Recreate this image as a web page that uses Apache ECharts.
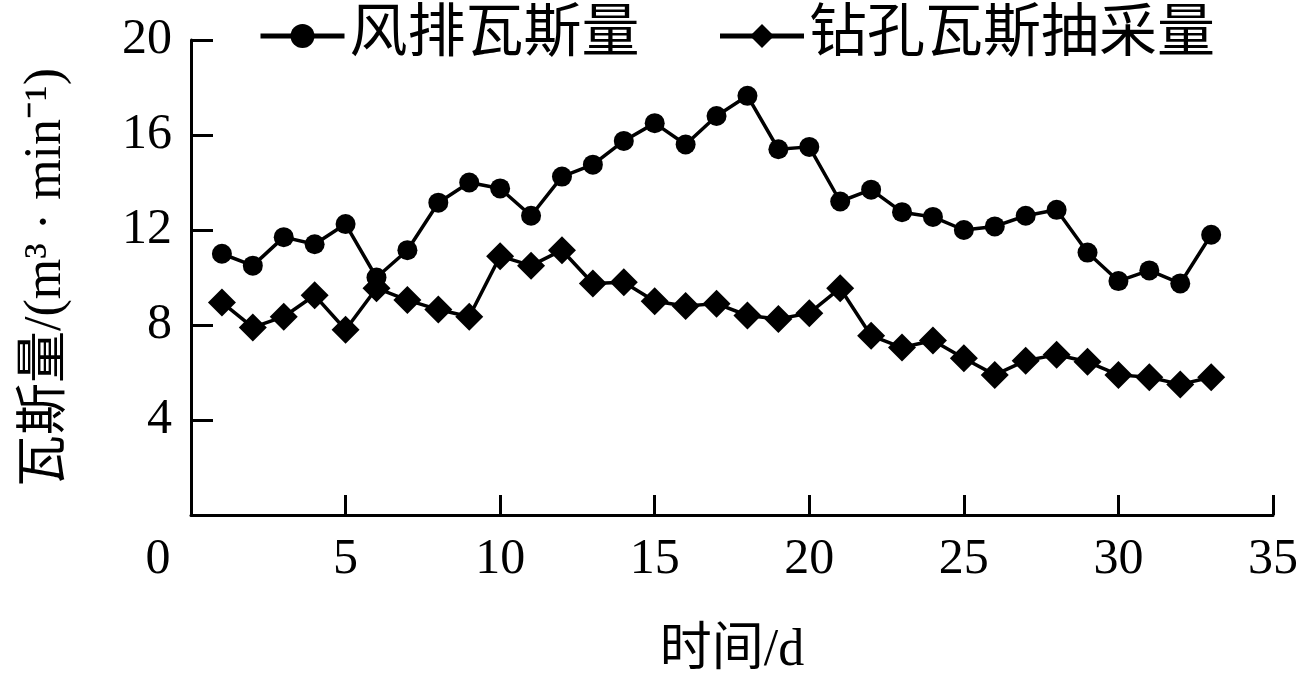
<!DOCTYPE html>
<html>
<head>
<meta charset="utf-8">
<script src="https://cdn.jsdelivr.net/npm/echarts@6/dist/echarts.min.js"></script>
<style>
  html, body { margin:0; padding:0; background:#fff; }
  #chart { width:1303px; height:683px; }
</style>
</head>
<body>
<div id="chart"></div>
<script type="text/javascript">
// 时间/d
var days = [1,2,3,4,5,6,7,8,9,10,11,12,13,14,15,16,17,18,19,20,21,22,23,24,25,26,27,28,29,30,31,32,33];
// 风排瓦斯量
var windGas = [11.0,10.5,11.7,11.4,12.25,10.0,11.15,13.15,14.0,13.75,12.6,14.25,14.75,15.75,16.5,15.6,16.8,17.65,15.4,15.5,13.2,13.7,12.75,12.55,12.0,12.15,12.6,12.85,11.05,9.85,10.3,9.75,11.8];
// 钻孔瓦斯抽采量
var drillGas = [8.95,7.9,8.35,9.25,7.8,9.55,9.05,8.65,8.35,10.9,10.5,11.15,9.75,9.8,9.0,8.8,8.9,8.4,8.25,8.5,9.55,7.55,7.05,7.35,6.6,5.9,6.5,6.75,6.45,5.9,5.8,5.5,5.8];
var seriesNames = ['风排瓦斯量', '钻孔瓦斯抽采量'];

var font = 'Liberation Serif, Noto Sans CJK SC';

function pairs(xs, ys) {
  var out = [];
  for (var i = 0; i < xs.length; i++) {
    out.push([xs[i], ys[i]]);
  }
  return out;
}

var dom = document.getElementById("chart");
var myChart = echarts.init(dom);
var option = {
  animation: false,
  backgroundColor: '#fff',
  textStyle: { fontFamily: font, color: '#000' },
  legend: {
    left: 253,
    top: 2,
    itemWidth: 84,
    itemHeight: 30,
    itemGap: 78,
    lineStyle: { width: 5 },
    textStyle: { fontSize: 58, fontFamily: font, color: '#000' },
    data: seriesNames
  },
  grid: {
    left: 191,
    right: 30,
    top: 40,
    bottom: 168,
    containLabel: false
  },
  xAxis: {
    type: 'value',
    min: 0,
    max: 35,
    interval: 5,
    name: '时间/d',
    nameLocation: 'middle',
    nameGap: 110,
    nameTextStyle: { fontSize: 52, fontFamily: font, color: '#000' },
    axisLine: { show: true, lineStyle: { color: '#000', width: 3 } },
    axisTick: { show: true, inside: true, length: 20, lineStyle: { color: '#000', width: 3 } },
    axisLabel: {
      fontSize: 50,
      fontFamily: font,
      color: '#000',
      margin: 20,
      formatter: function (v) {
        return v === 0 ? '{z|0}' : String(v);
      },
      rich: {
        z: { fontSize: 50, fontFamily: font, color: '#000', padding: [0, 66, 0, 0] }
      }
    },
    splitLine: { show: false }
  },
  yAxis: {
    type: 'value',
    min: 0,
    max: 20,
    interval: 4,
    name: '瓦斯量/(m³ · min⁻¹)',
    nameLocation: 'middle',
    nameGap: 119,
    nameTextStyle: { fontSize: 52, fontFamily: font, color: '#000' },
    axisLine: { show: true, lineStyle: { color: '#000', width: 3 } },
    axisTick: { show: true, inside: true, length: 22, lineStyle: { color: '#000', width: 3 } },
    axisLabel: {
      fontSize: 50,
      fontFamily: font,
      color: '#000',
      margin: 19,
      showMinLabel: false
    },
    splitLine: { show: false }
  },
  series: [{
    name: seriesNames[0],
    type: 'line',
    data: pairs(days, windGas),
    symbol: 'circle',
    symbolSize: 20,
    itemStyle: { color: '#000' },
    lineStyle: { color: '#000', width: 3.5 }
  }, {
    name: seriesNames[1],
    type: 'line',
    data: pairs(days, drillGas),
    symbol: 'diamond',
    symbolSize: 28,
    itemStyle: { color: '#000' },
    lineStyle: { color: '#000', width: 3.5 }
  }]
};
if (option && typeof option === "object") {
  myChart.setOption(option, true);
}
</script>
</body>
</html>
